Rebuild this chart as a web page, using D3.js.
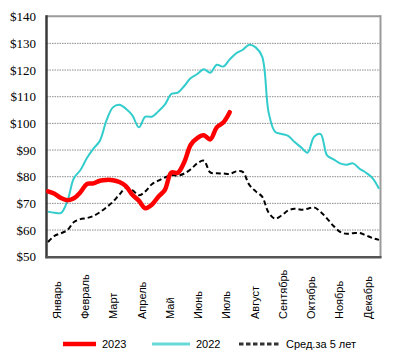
<!DOCTYPE html>
<html lang="ru">
<head>
<meta charset="UTF-8">
<title>Цены</title>
<script src="https://d3js.org/d3.v7.min.js"></script>
<style>
  body { margin: 0; background: #fff; }
  .ytick { font-family: "Liberation Serif", "Times New Roman", serif; font-size: 13px; fill: #000; }
  .xtick, .legend text { font-family: "Liberation Sans", Arial, sans-serif; font-size: 11px; fill: #000; }
</style>
</head>
<body>
<script>
// month labels for the x axis
var months = ["Январь", "Февраль", "Март", "Апрель", "Май", "Июнь", "Июль",
              "Август", "Сентябрь", "Октябрь", "Ноябрь", "Декабрь"];
// y axis ticks, dollars
var yTicks = [50, 60, 70, 80, 90, 100, 110, 120, 130, 140];

// weekly values, week 0 .. 51
var series2022 = [66.9, 66.5, 66.4, 71, 79.5, 82.5, 87, 90.5, 93.5, 101, 106, 107, 105.5, 103,
  98.5, 102.5, 102.5, 104.5, 107, 111, 111.5, 114, 117, 118.5, 120.3, 119, 122, 121.3, 124,
  126.3, 127.6, 129.5, 128.5, 125, 104, 96.8, 96, 95.3, 93, 91, 89, 95, 96, 88, 86.5, 85,
  84.5, 85, 83, 81.5, 79.5, 75.5];
var series2023 = [74.5, 73.6, 72, 71.2, 71.9, 74.2, 77.3, 77.5, 78.5, 78.8, 78.7, 78, 76.5,
  73.2, 71, 68.2, 69.5, 72.5, 75, 81.5, 81.5, 85.5, 92, 94.5, 95.5, 94, 98.5, 100.3, 104.2];
var seriesAvg = [55.5, 57.8, 58.8, 60, 63, 64.1, 64.5, 65.3, 66.7, 68.5, 70.6, 73.3, 75.8, 75,
  73, 74.5, 77.2, 78.5, 79.7, 80.6, 80.4, 81.2, 82.8, 85, 86, 81.6, 81.3, 81.2, 81, 82, 81.8,
  77, 74.5, 72.5, 66.5, 64.3, 65.5, 67.3, 68, 67.6, 68, 68.5, 66.8, 64.3, 61.5, 59.3, 58.6,
  58.8, 58.9, 58, 57, 56.3];
var legendNames = ["2023", "2022", "Сред.за 5 лет"];

var width = 397, height = 361;
var pLeft = 47, pRight = 380, pTop = 16.7, pBottom = 256.7;

var svg = d3.select("body").append("svg")
    .attr("width", width)
    .attr("height", height);

var x = d3.scaleLinear().domain([0, 51]).range([pLeft + 1, pRight - 1]);
var y = d3.scaleLinear().domain([50, 140]).range([pBottom, pTop]);
var xm = d3.scaleBand().domain(months).range([43, 382]);

// grid lines
svg.append("g").selectAll("line")
    .data(yTicks.filter(function(d) { return d > 50 && d < 140; }))
  .enter().append("line")
    .attr("x1", pLeft).attr("x2", pRight)
    .attr("y1", function(d) { return y(d); })
    .attr("y2", function(d) { return y(d); })
    .attr("stroke", "#8c8c8c")
    .attr("stroke-width", 1)
    .attr("stroke-dasharray", "1.5,1");

// plot frame: top/right light, left/bottom dark
svg.append("line").attr("x1", pLeft).attr("x2", pRight + 1).attr("y1", pTop - 0.5).attr("y2", pTop - 0.5)
    .attr("stroke", "#9a9a9a").attr("stroke-width", 2);
svg.append("line").attr("x1", pRight + 0.5).attr("x2", pRight + 0.5).attr("y1", pTop - 1.5).attr("y2", pBottom + 1)
    .attr("stroke", "#9a9a9a").attr("stroke-width", 2);
svg.append("line").attr("x1", pLeft - 0.5).attr("x2", pLeft - 0.5).attr("y1", pTop - 1.5).attr("y2", pBottom + 1.5)
    .attr("stroke", "#3a3a3a").attr("stroke-width", 2.5);
svg.append("line").attr("x1", pLeft - 1.5).attr("x2", pRight + 1.5).attr("y1", pBottom + 0.5).attr("y2", pBottom + 0.5)
    .attr("stroke", "#555").attr("stroke-width", 2.5);

// y labels
svg.append("g").selectAll("text")
    .data(yTicks)
  .enter().append("text")
    .attr("class", "ytick")
    .attr("x", 36)
    .attr("y", function(d) { return y(d); })
    .attr("dy", "0.35em")
    .attr("text-anchor", "end")
    .text(function(d) { return "$" + d; });

// x labels (rotated)
svg.append("g").selectAll("text")
    .data(months)
  .enter().append("text")
    .attr("class", "xtick")
    .attr("transform", function(d) {
        return "translate(" + (xm(d) + xm.bandwidth() / 2) + ",319) rotate(-90)";
    })
    .attr("dy", "0.35em")
    .attr("text-anchor", "start")
    .text(function(d) { return d; });

var line = d3.line()
    .x(function(d, i) { return x(i); })
    .y(function(d) { return y(d); })
    .curve(d3.curveCatmullRom.alpha(0.5));

svg.append("path").datum(seriesAvg)
    .attr("d", line).attr("fill", "none")
    .attr("stroke", "#000").attr("stroke-width", 2)
    .attr("stroke-dasharray", "5,3");

svg.append("path").datum(series2022)
    .attr("d", line).attr("fill", "none")
    .attr("stroke", "#33cccc").attr("stroke-width", 2);

svg.append("path").datum(series2023)
    .attr("d", line).attr("fill", "none")
    .attr("stroke", "#ff0000").attr("stroke-width", 4.5)
    .attr("stroke-linecap", "round");

// legend
var legendItems = [
    { name: legendNames[0], x: 63, color: "#ff0000", w: 4.5, dash: null, len: 33 },
    { name: legendNames[1], x: 152, color: "#66d9d9", w: 3, dash: null, len: 38 },
    { name: legendNames[2], x: 239, color: "#333", w: 3, dash: "4.5,2.5", len: 41 }
];
var lg = svg.append("g").attr("class", "legend").selectAll("g")
    .data(legendItems)
  .enter().append("g")
    .attr("transform", function(d) { return "translate(" + d.x + ",344)"; });
lg.append("line")
    .attr("x1", 0).attr("x2", function(d) { return d.len; })
    .attr("stroke", function(d) { return d.color; })
    .attr("stroke-width", function(d) { return d.w; })
    .attr("stroke-dasharray", function(d) { return d.dash; });
lg.append("text")
    .attr("x", function(d) { return d.len + 6; })
    .attr("dy", "0.35em")
    .text(function(d) { return d.name; });
</script>
</body>
</html>
